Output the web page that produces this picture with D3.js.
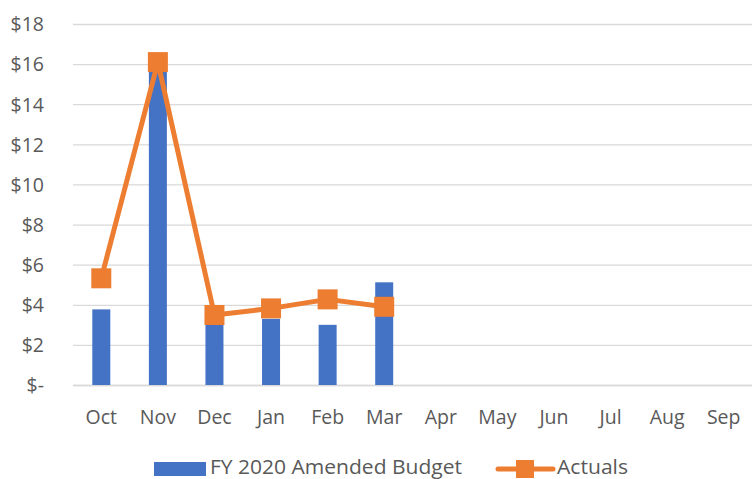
<!DOCTYPE html>
<html><head><meta charset="utf-8">
<script src="https://cdn.jsdelivr.net/npm/d3@7"></script>
<style>html,body{margin:0;padding:0;background:#fff;overflow:hidden}</style>
</head><body>
<svg id="c" width="752" height="479"></svg>
<script>
const months = ["Oct","Nov","Dec","Jan","Feb","Mar","Apr","May","Jun","Jul","Aug","Sep"];
const budget = [3.77, 15.9, 3.2, 3.3, 3.0, 5.12, null, null, null, null, null, null];
const actuals = [5.32, 16.1, 3.49, 3.82, 4.27, 3.9, null, null, null, null, null, null];
const yTicks = [0,2,4,6,8,10,12,14,16,18];
const seriesNames = ["FY 2020 Amended Budget","Actuals"];

const svg = d3.select("#c");
const font = "'Open Sans', sans-serif";
const textColor = "#595959";
const blue = "#4472C4", orange = "#ED7D31", grid = "#D9D9D9";

const x = d3.scaleBand().domain(months).range([73, 752]).paddingInner(0).paddingOuter(0);
const y = d3.scaleLinear().domain([0,18]).range([385, 24]);

// gridlines
const gAxisY = svg.append("g").attr("transform","translate(73,0)")
  .call(d3.axisLeft(y).tickValues(yTicks).tickSize(-(752-73)).tickFormat(d => d===0 ? "$-" : "$" + d));
gAxisY.select(".domain").remove();
gAxisY.selectAll(".tick line").attr("stroke", grid).attr("stroke-width", 1.3);
gAxisY.selectAll(".tick text").attr("x", -29).attr("fill", textColor)
  .style("font-family", font).style("font-size","19.5px").attr("dy","0.35em");

// x axis
const gAxisX = svg.append("g").attr("transform","translate(0,385)")
  .call(d3.axisBottom(x).tickSize(0).tickPadding(0));
gAxisX.select(".domain").attr("stroke", grid).attr("stroke-width", 1.3);
gAxisX.selectAll(".tick text").attr("y", 39).attr("dy", 0).attr("fill", textColor)
  .style("font-family", font).style("font-size","19.5px");

// bars
const bw = 18;
svg.append("g").selectAll("rect").data(months.map((m,i)=>({m, v:budget[i]})).filter(d=>d.v!=null))
  .join("rect")
  .attr("x", d => x(d.m) + x.bandwidth()/2 - bw/2)
  .attr("width", bw)
  .attr("y", d => y(d.v))
  .attr("height", d => y(0) - y(d.v))
  .attr("fill", blue);

// line
const pts = months.map((m,i)=>({m, v:actuals[i]})).filter(d=>d.v!=null);
const line = d3.line().x(d => x(d.m) + x.bandwidth()/2).y(d => y(d.v));
svg.append("path").datum(pts).attr("d", line).attr("fill","none")
  .attr("stroke", orange).attr("stroke-width", 5).attr("stroke-linejoin","round");
const ms = 20;
svg.append("g").selectAll("rect").data(pts).join("rect")
  .attr("x", d => x(d.m) + x.bandwidth()/2 - ms/2)
  .attr("y", d => y(d.v) - ms/2)
  .attr("width", ms).attr("height", ms).attr("fill", orange);

// legend
const lg = svg.append("g");
lg.append("rect").attr("x",154).attr("y",462).attr("width",52).attr("height",14).attr("fill",blue);
const t1 = lg.append("text").attr("x",210).attr("y",474).text(seriesNames[0])
  .attr("fill",textColor).style("font-family",font).style("font-size","20px");
t1.attr("textLength", 252).attr("lengthAdjust","spacingAndGlyphs");
lg.append("line").attr("x1",498).attr("x2",553).attr("y1",469).attr("y2",469)
  .attr("stroke",orange).attr("stroke-width",5).attr("stroke-linecap","round");
lg.append("rect").attr("x",516).attr("y",460).attr("width",18).attr("height",18).attr("fill",orange);
lg.append("text").attr("x",557).attr("y",474).text(seriesNames[1])
  .attr("fill",textColor).style("font-family",font).style("font-size","20px")
  .attr("textLength", 71).attr("lengthAdjust","spacingAndGlyphs");
</script>
</body></html>
